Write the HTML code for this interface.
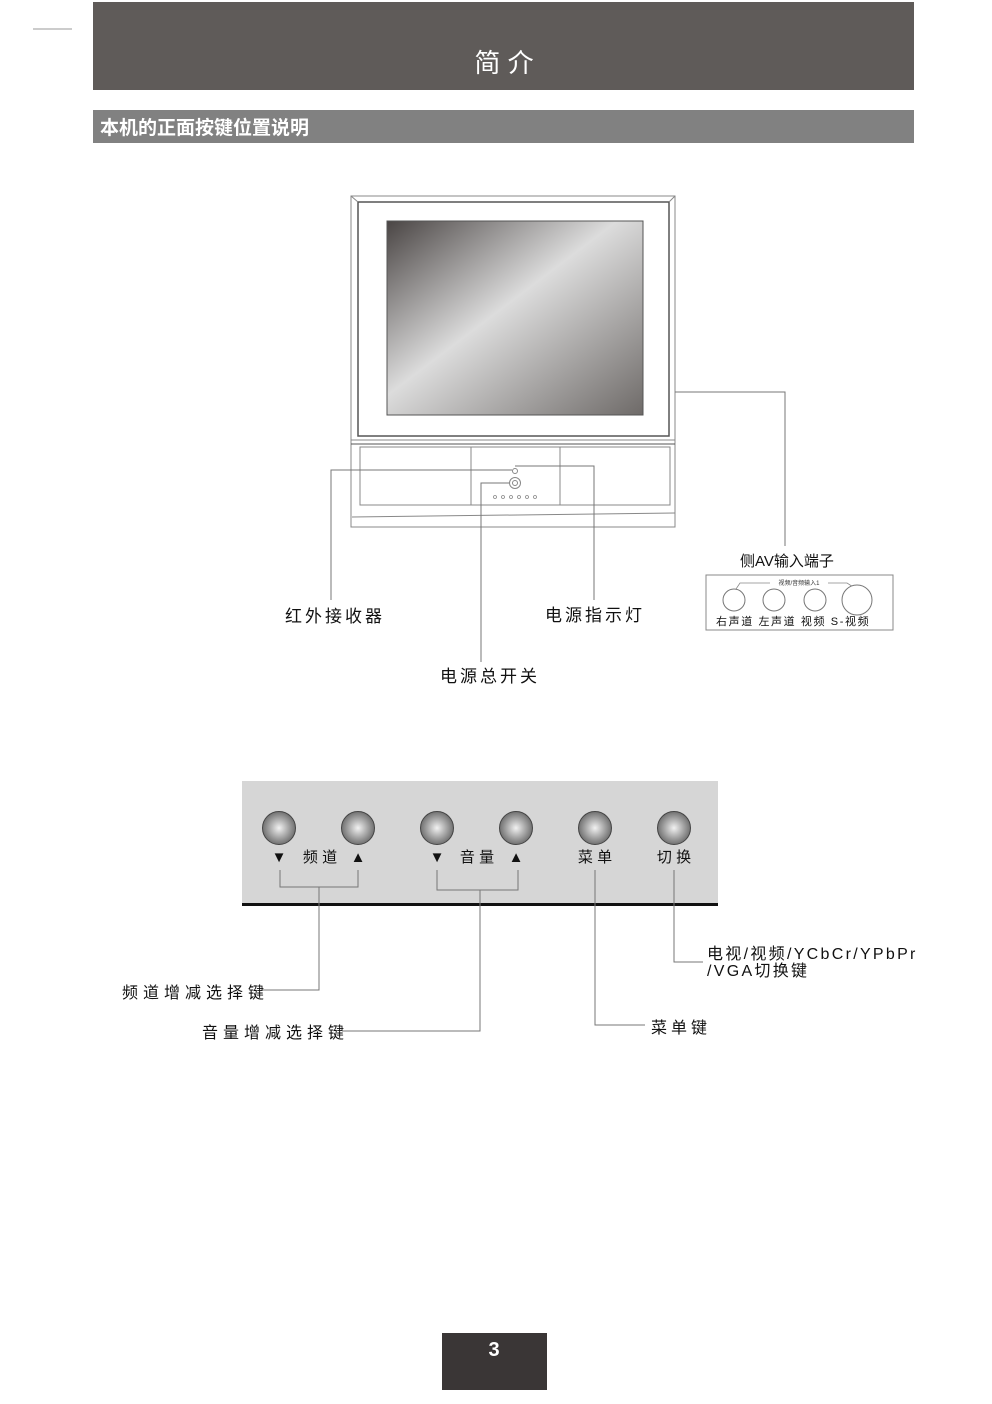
<!DOCTYPE html>
<html><head><meta charset="utf-8"><style>
html,body{margin:0;padding:0;background:#fff;width:992px;height:1404px;overflow:hidden}
svg{display:block}
text{font-family:"Liberation Sans","Noto Sans CJK SC",sans-serif}
</style></head><body>
<svg width="992" height="1404" viewBox="0 0 992 1404" xmlns="http://www.w3.org/2000/svg">
<defs>
<linearGradient id="scr" x1="0" y1="0" x2="1" y2="1">
<stop offset="0" stop-color="#4a4544"/>
<stop offset="0.45" stop-color="#dcdcdc"/>
<stop offset="1" stop-color="#6e6a68"/>
</linearGradient>
<radialGradient id="btn" cx="0.5" cy="0.5" r="0.5">
<stop offset="0" stop-color="#f2f2f2"/>
<stop offset="0.5" stop-color="#b0b0b0"/>
<stop offset="1" stop-color="#707070"/>
</radialGradient>
</defs>
<line x1="33" y1="29" x2="72" y2="29" stroke="#999" stroke-width="1"/>
<rect x="93" y="2" width="821" height="88" fill="#5f5b59"/>
<text x="504" y="72" font-size="26" fill="#fff" text-anchor="middle">简 介</text>
<rect x="93" y="110" width="821" height="33" fill="#818181"/>
<text x="100" y="134" font-size="19" font-weight="bold" fill="#fff">本机的正面按键位置说明</text>

<g fill="none" stroke="#888" stroke-width="1">
<rect x="351" y="196" width="324" height="331" fill="#fff"/>
<rect x="358" y="202" width="311" height="234" stroke="#555" stroke-width="1.5"/>
<line x1="351" y1="196" x2="358" y2="202"/><line x1="675" y1="196" x2="669" y2="202"/>
<line x1="351" y1="440" x2="675" y2="440"/>
<line x1="351" y1="444" x2="675" y2="444" stroke="#555"/>
<rect x="360" y="447" width="310" height="58"/>
<line x1="471" y1="447" x2="471" y2="505"/>
<line x1="560" y1="447" x2="560" y2="505"/>
<line x1="352" y1="517" x2="675" y2="513"/>
<circle cx="515" cy="471" r="2.5"/>
<circle cx="515" cy="483" r="5.5"/><circle cx="515" cy="483" r="2.5"/>
</g>
<rect x="387" y="221" width="256" height="194" fill="url(#scr)" stroke="#555" stroke-width="1"/>
<g fill="none" stroke="#888" stroke-width="0.8">
<circle cx="495" cy="497" r="1.5"/><circle cx="503" cy="497" r="1.5"/><circle cx="511" cy="497" r="1.5"/><circle cx="519" cy="497" r="1.5"/><circle cx="527" cy="497" r="1.5"/><circle cx="535" cy="497" r="1.5"/>
</g>
<g fill="none" stroke="#777" stroke-width="1">
<polyline points="512,470 331,470 331,600"/>
<polyline points="515,466 594,466 594,600"/>
<polyline points="509,483 481,483 481,662"/>
<polyline points="675,392 785,392 785,546"/>
</g>
<text x="285" y="622" font-size="17" fill="#111" letter-spacing="3">红外接收器</text>
<text x="545" y="621" font-size="17" fill="#111" letter-spacing="3">电源指示灯</text>
<text x="440" y="682" font-size="17" fill="#111" letter-spacing="3">电源总开关</text>
<text x="740" y="566" font-size="15" fill="#111">侧AV输入端子</text>
<rect x="706" y="575" width="187" height="55" fill="none" stroke="#888"/>
<polyline points="734,592 740,583 847,583 858,590" fill="none" stroke="#888" stroke-width="0.8"/>
<rect x="770" y="579" width="58" height="7" fill="#fff"/>
<text x="799" y="585" font-size="6" fill="#333" text-anchor="middle">视频/音频输入1</text>
<g fill="#fff" stroke="#777">
<circle cx="734" cy="600" r="11"/><circle cx="774" cy="600" r="11"/><circle cx="815" cy="600" r="11"/><circle cx="857" cy="600" r="15"/>
</g>
<text x="716" y="625" font-size="11" fill="#111" letter-spacing="1.6">右声道 左声道  视频  S-视频</text>

<rect x="242" y="781" width="476" height="123" fill="#d6d6d6"/>
<rect x="242" y="903" width="476" height="3" fill="#111"/>
<g stroke="#444" stroke-width="1">
<circle cx="279" cy="828" r="16.5" fill="url(#btn)"/>
<circle cx="358" cy="828" r="16.5" fill="url(#btn)"/>
<circle cx="437" cy="828" r="16.5" fill="url(#btn)"/>
<circle cx="516" cy="828" r="16.5" fill="url(#btn)"/>
<circle cx="595" cy="828" r="16.5" fill="url(#btn)"/>
<circle cx="674" cy="828" r="16.5" fill="url(#btn)"/>
</g>
<g font-size="15" fill="#111" text-anchor="middle">
<text x="279" y="862">▼</text><text x="320" y="862">频 道</text><text x="358" y="862">▲</text>
<text x="437" y="862">▼</text><text x="477" y="862">音 量</text><text x="516" y="862">▲</text>
<text x="595" y="862">菜 单</text><text x="674" y="862">切 换</text>
</g>
<g fill="none" stroke="#777" stroke-width="1">
<polyline points="280,870 280,887 358,887 358,870"/>
<polyline points="437,870 437,890 518,890 518,870"/>
<polyline points="319,887 319,990 262,990"/>
<polyline points="480,890 480,1031 342,1031"/>
<polyline points="595,870 595,1025 645,1025"/>
<polyline points="674,870 674,962 703,962"/>
</g>
<g font-size="16" fill="#111">
<text x="122" y="998" letter-spacing="5">频道增减选择键</text>
<text x="202" y="1038" letter-spacing="5">音量增减选择键</text>
<text x="651" y="1033" letter-spacing="4">菜单键</text>
<text x="707" y="959" letter-spacing="2.3">电视/视频/YCbCr/YPbPr</text>
<text x="707" y="976" letter-spacing="2.3">/VGA切换键</text>
</g>

<rect x="442" y="1333" width="105" height="57" fill="#3a3636"/>
<text x="494" y="1356" font-size="20" font-weight="bold" fill="#fff" text-anchor="middle">3</text>
</svg>
</body></html>
